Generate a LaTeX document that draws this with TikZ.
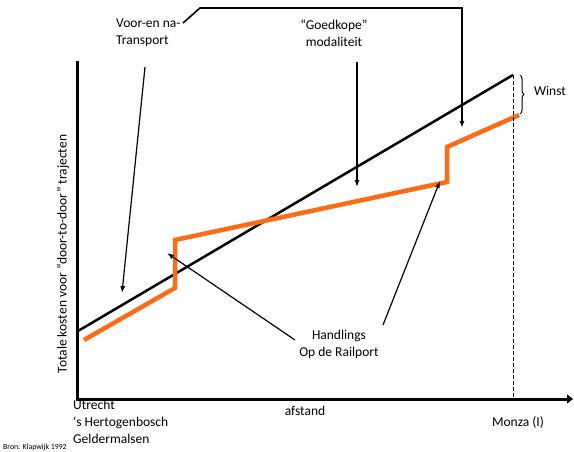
\documentclass[tikz,border=0pt]{standalone}
\usepackage{fontspec}
\setmainfont{Carlito}
\usetikzlibrary{arrows.meta,decorations.pathreplacing}
\definecolor{kostoranje}{RGB}{255,106,19}
\begin{document}
\begin{tikzpicture}[x=1pt,y=-1pt,
  lbl/.style={font=\fontsize{13.5}{17}\selectfont,inner sep=0pt},
  wijzer/.style={line width=1.2pt,-{Latex[length=7pt,width=5pt]}}]
\useasboundingbox (0,0) rectangle (574,452);
\coordinate (oorsprong) at (77,399);
\coordinate (ytop) at (77,61);
\coordinate (xend) at (573,399);
\coordinate (wegA) at (78,331);
\coordinate (wegB) at (513,75);
\coordinate (railA) at (84,340);
\coordinate (railB) at (175,288);
\coordinate (railC) at (175,240);
\coordinate (railD) at (447,182);
\coordinate (railE) at (447,147);
\coordinate (railF) at (519,115);
\coordinate (monzavoet) at (513,399);
\draw [line width=3pt,line join=miter,-{Triangle[length=6pt,width=9pt]}] (ytop) -- (oorsprong) -- (xend);
\draw [line width=2.5pt] (wegA) -- (wegB);
\draw [kostoranje,line width=4.5pt,line join=miter] (railA) -- (railB) -- (railC) -- (railD) -- (railE) -- (railF);
\draw [line width=1pt,dash pattern=on 4pt off 2pt] (wegB) -- (monzavoet);
\draw [line width=1pt,decorate,decoration={brace,amplitude=4pt}] (520,75) -- (520,114);
\node [lbl] (winst) at (550,91) {Winst};
\node [lbl,align=left,anchor=west] (voor) at (116,33) {Voor-en na-\\Transport};
\node [lbl,align=center] (goedkoop) at (334,33) {“Goedkope”\\modaliteit};
\node [lbl,align=center] (handling) at (339,344) {Handlings\\Op de Railport};
\node [lbl,rotate=90] (ylabel) at (63,254) {Totale kosten voor “door-to-door” trajecten};
\node [lbl,align=left,anchor=west] (steden) at (73,422) {Utrecht\\‘s Hertogenbosch\\Geldermalsen};
\node [lbl] (afstand) at (305,411) {afstand};
\node [lbl] (monza) at (518,422) {Monza (I)};
\node [font=\fontsize{7.8}{9}\selectfont,inner sep=0pt,anchor=west] (bron) at (3,447) {Bron: Klapwijk 1992};
\coordinate (voorstart) at (145,67);
\coordinate (voordoel) at (122,293);
\coordinate (leiderstart) at (183,23);
\coordinate (leiderdoel) at (462,128);
\coordinate (goedstart) at (357,62);
\coordinate (goeddoel) at (357,187);
\coordinate (handstartA) at (295,340);
\coordinate (handdoelA) at (167,253);
\coordinate (handstartB) at (383,325);
\coordinate (handdoelB) at (440,181);
\draw [wijzer] (voorstart) -- (voordoel);
\draw [wijzer,line width=1.6pt] (leiderstart) -- (200,8) -- (462,8) -- (leiderdoel);
\draw [wijzer] (goedstart) -- (goeddoel);
\draw [wijzer] (handstartA) -- (handdoelA);
\draw [wijzer] (handstartB) -- (handdoelB);
\end{tikzpicture}
\end{document}
